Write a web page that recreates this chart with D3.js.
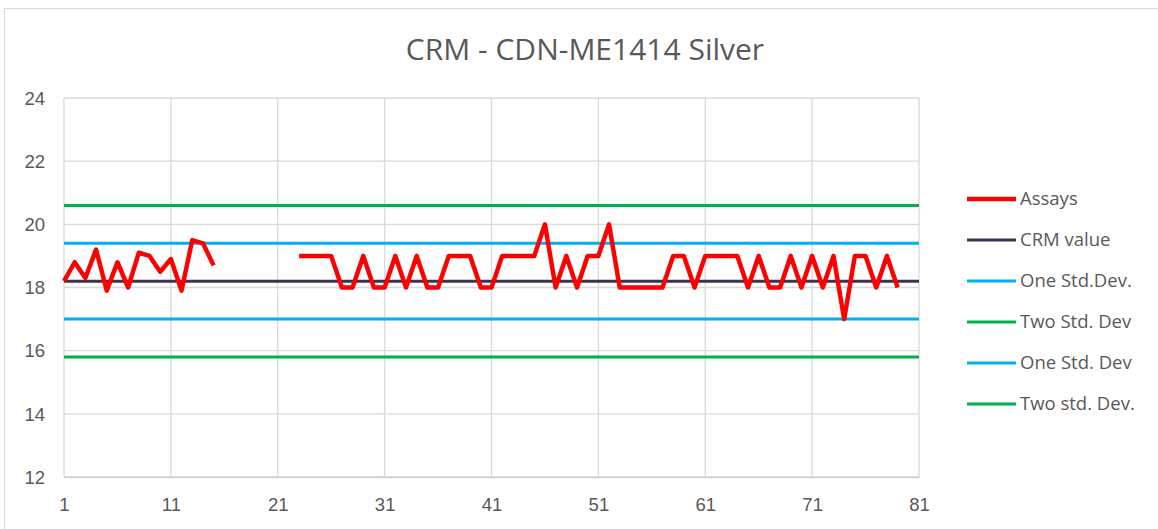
<!DOCTYPE html>
<html><head><meta charset="utf-8">
<script src="https://cdn.jsdelivr.net/npm/d3@7"></script>
<style>body{margin:0;background:#fff;}svg{display:block;font-family:"Open Sans","Liberation Sans",sans-serif;}</style>
</head><body><svg id="c" width="1158" height="529"></svg>
<script>
const sampleIds = d3.range(1, 80);
const assays = [18.2,18.8,18.3,19.2,17.9,18.8,18.0,19.1,19.0,18.5,18.9,17.9,19.5,19.4,18.7,
  null,null,null,null,null,null,null,
  19,19,19,19,18,18,19,18,18,19,18,19,18,18,19,19,19,18,18,19,19,19,19,20,18,19,18,19,19,20,18,18,18,18,18,19,19,18,
  19,19,19,19,18,19,18,18,19,18,19,18,19,17,19,19,18,19,18];
const crmValue = 18.2;
const oneSdHigh = 19.4, oneSdLow = 17.0, twoSdHigh = 20.6, twoSdLow = 15.8;
const yTicks = [12,14,16,18,20,22,24];
const xTicks = [1,11,21,31,41,51,61,71,81];
const legendNames = ["Assays","CRM value","One Std.Dev.","Two Std. Dev","One Std. Dev","Two std. Dev."];
const legendColors = ["#ff0000","#403151","#00b0f0","#00b050","#00b0f0","#00b050"];
const title = "CRM - CDN-ME1414 Silver";

const svg = d3.select("#c");
svg.append("rect").attr("x",4.5).attr("y",8.5).attr("width",1160).attr("height",530)
  .attr("fill","#fff").attr("stroke","#d9d9d9");

const x = d3.scaleLinear().domain([1,81]).range([64,919]);
const y = d3.scaleLinear().domain([12,24]).range([477,98]);

// gridlines
svg.append("g").selectAll("line").data(yTicks).join("line")
  .attr("x1",x(1)).attr("x2",x(81)).attr("y1",d=>y(d)).attr("y2",d=>y(d))
  .attr("stroke","#d9d9d9").attr("stroke-width",1.3);
svg.append("g").selectAll("line").data(xTicks).join("line")
  .attr("x1",d=>x(d)).attr("x2",d=>x(d)).attr("y1",y(12)).attr("y2",y(24))
  .attr("stroke","#d9d9d9").attr("stroke-width",1.3);

// axes labels
const yAxis = d3.axisLeft(y).tickValues(yTicks).tickSize(0).tickPadding(19);
const gy = svg.append("g").attr("transform",`translate(${x(1)},0)`).call(yAxis);
gy.select(".domain").remove();
gy.selectAll("text").attr("fill","#595959").style("font-size","18.5px").attr("dy","0.34em");
const xAxis = d3.axisBottom(x).tickValues(xTicks).tickSize(0).tickPadding(21).tickFormat(d3.format("d"));
const gx = svg.append("g").attr("transform",`translate(0,${y(12)})`).call(xAxis);
gx.select(".domain").attr("stroke","#d0d0d0").attr("stroke-width",1.5);
gx.selectAll("text").attr("fill","#595959").style("font-size","18.5px");

// reference lines
const refs = [[twoSdHigh,"#00b050"],[oneSdHigh,"#00b0f0"],[oneSdLow,"#00b0f0"],[twoSdLow,"#00b050"],[crmValue,"#403151"]];
svg.append("g").selectAll("line").data(refs).join("line")
  .attr("x1",x(1)).attr("x2",x(81)).attr("y1",d=>y(d[0])).attr("y2",d=>y(d[0]))
  .attr("stroke",d=>d[1]).attr("stroke-width",3);

// assays line
const line = d3.line().defined(d=>d[1]!=null).x(d=>x(d[0])).y(d=>y(d[1]));
svg.append("path").datum(sampleIds.map((id,i)=>[id,assays[i]]))
  .attr("d",line).attr("fill","none").attr("stroke","#ff0000").attr("stroke-width",4.5)
  .attr("stroke-linejoin","round");

// title
svg.append("text").attr("x",585).attr("y",60).attr("text-anchor","middle")
  .attr("fill","#595959").style("font-size","30px").text(title);

// legend
const lg = svg.append("g").selectAll("g").data(legendNames).join("g")
  .attr("transform",(d,i)=>`translate(967,${199+i*41})`);
lg.append("line").attr("x1",0).attr("x2",49).attr("stroke",(d,i)=>legendColors[i])
  .attr("stroke-width",(d,i)=>i===0?4.5:3);
lg.append("text").attr("x",53).attr("dy","0.35em").attr("fill","#595959")
  .style("font-size","18.5px").text(d=>d);
</script></body></html>
